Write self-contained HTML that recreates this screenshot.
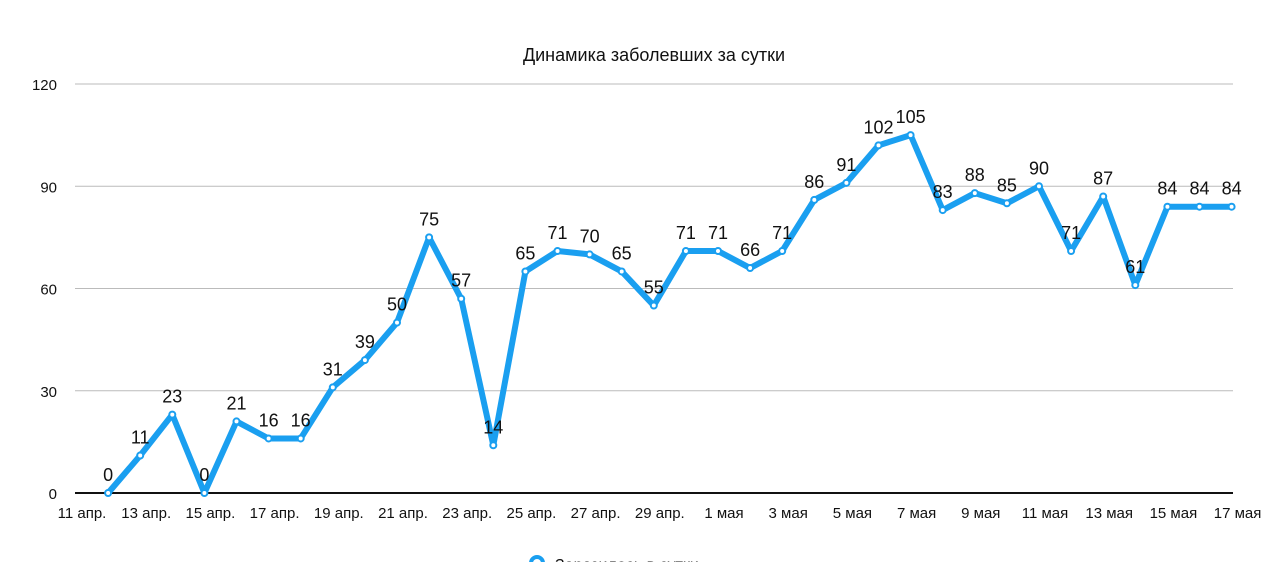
<!DOCTYPE html>
<html><head><meta charset="utf-8"><style>
body{margin:0;background:#fff;}
svg{display:block;font-family:"Liberation Sans",Arial,sans-serif;}
</style></head><body>
<svg id="chart" width="1280" height="562">
<text x="654" y="61" font-size="18" text-anchor="middle" fill="#111">Динамика заболевших за сутки</text>
<g id="grid"></g><g id="xl"></g><g id="series"></g>
<g>
<circle cx="537" cy="563" r="6" fill="#fff" stroke="#1a9ff0" stroke-width="4"/>
<text x="555" y="570" font-size="16" fill="#111">Заразилось в сутки</text>
</g>
</svg>
<script>
const startDay = 1; // index of first point (12 апр.)
const values = [0,11,23,0,21,16,16,31,39,50,75,57,14,65,71,70,65,55,71,71,66,71,86,91,102,105,83,88,85,90,71,87,61,84,84,84];
const xLabels = ["11 апр.","13 апр.","15 апр.","17 апр.","19 апр.","21 апр.","23 апр.","25 апр.","27 апр.","29 апр.","1 мая","3 мая","5 мая","7 мая","9 мая","11 мая","13 мая","15 мая","17 мая"];
const yTicks = [0,30,60,90,120];
const NS="http://www.w3.org/2000/svg";
const x0=76, dx=32.1, y0=493, yTop=84, yMax=120;
const xs=d=>x0+d*dx;
const ys=v=>y0-(v/yMax)*(y0-yTop);
function mk(tag,attrs,parent){const e=document.createElementNS(NS,tag);for(const k in attrs)e.setAttribute(k,attrs[k]);parent.appendChild(e);return e;}
const grid=document.getElementById('grid');
yTicks.forEach(t=>{
  const l=mk('line',{x1:75,x2:1233,y1:ys(t),y2:ys(t),stroke:t===0?'#111':'#bbb','stroke-width':t===0?2:1},grid);
  
  
  const tx=mk('text',{x:57,y:ys(t)+6,'font-size':15,'text-anchor':'end',fill:'#111'},grid);
  tx.textContent=t;
  
  
});
const xl=document.getElementById('xl');
xLabels.forEach((s,i)=>{
  const t=mk('text',{x:xs(i*2)+6,y:518,'font-size':15,'text-anchor':'middle',fill:'#111'},xl);
  t.textContent=s;
  
  
});
const ser=document.getElementById('series');
const pts=values.map((v,i)=>xs(i+startDay)+','+ys(v)).join(' ');
const pl=mk('polyline',{points:pts,fill:'none',stroke:'#1a9ff0','stroke-width':6,'stroke-linejoin':'round'},ser);


values.forEach((v,i)=>{
  const c=mk('circle',{cx:xs(i+startDay),cy:ys(v),r:3,fill:'#fff',stroke:'#1a9ff0','stroke-width':2},ser);
  
  
  const t=mk('text',{x:xs(i+startDay),y:ys(v)-12,'font-size':18,'text-anchor':'middle',fill:'#111'},ser);
  t.textContent=v;
  
  
});
</script>
</body></html>
